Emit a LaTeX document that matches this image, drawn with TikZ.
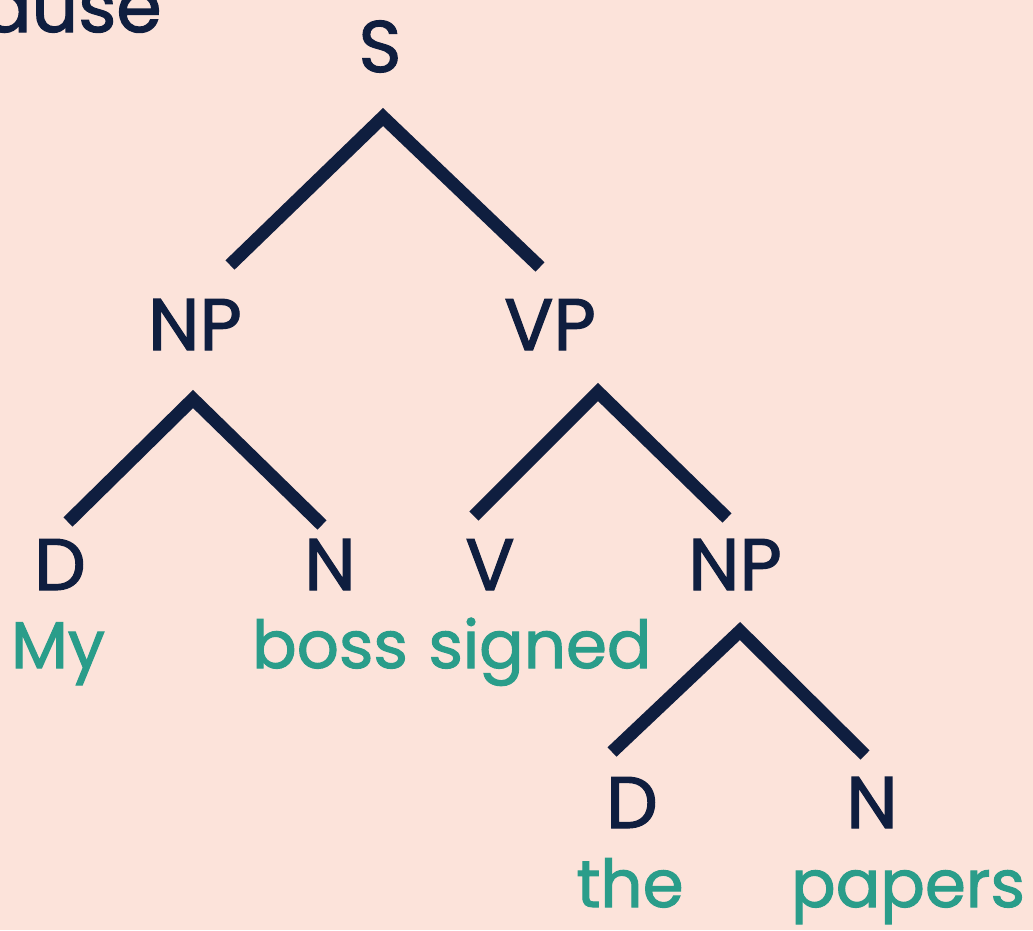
\documentclass[tikz,border=0pt]{standalone}
\usepackage{fontspec}
\setmainfont{Poppins}[FakeBold=1.6]
\definecolor{bg}{HTML}{FCE3DA}
\definecolor{navy}{HTML}{0F1E3F}
\definecolor{teal}{HTML}{2A9D8A}
\begin{document}
\begin{tikzpicture}[x=1pt,y=-1pt,
  cat/.style={text=navy,font=\fontsize{73}{78}\selectfont,inner sep=0pt,anchor=base},
  word/.style={text=teal,font=\fontsize{66}{70}\selectfont,inner sep=0pt,anchor=base},
  branch/.style={draw=navy,line width=13pt,line join=miter,line cap=butt}]
\fill[bg] (0,0) rectangle (1033,930);
\useasboundingbox (0,0) rectangle (1033,930);
\begin{scope}
\clip (0,0) rectangle (1033,930);
\node[cat,anchor=base west] (ause) at (-18,32) {ause};
\end{scope}
% categories
\node[cat] (S) at (380,72) {S};
\node[cat] (NP) at (195,350) {NP};
\node[cat] (VP) at (550,350) {VP};
\node[cat] (D) at (60,590) {D};
\node[cat] (N) at (330,590) {N};
\node[cat] (V) at (490,590) {V};
\node[cat] (NPb) at (735,590) {NP};
\node[cat] (Db) at (632,828) {D};
\node[cat] (Nb) at (872,828) {N};
% words
\node[word] (my) at (58,668) {My};
\node[word] (boss) at (330,668) {boss};
\node[word] (signed) at (540,668) {signed};
\node[word] (the) at (630,907) {the};
\node[word] (papers) at (908,907) {papers};
% branch points
\coordinate (Sa) at (383,117);
\coordinate (Sl) at (230,265);
\coordinate (Sr) at (540,267);
\coordinate (NPa) at (193,399);
\coordinate (NPl) at (68,522);
\coordinate (NPr) at (322,525);
\coordinate (VPa) at (598,392);
\coordinate (VPl) at (474,516);
\coordinate (VPr) at (727,518);
\coordinate (NPba) at (740,631);
\coordinate (NPbl) at (612,752);
\coordinate (NPbr) at (865,755);
\draw[branch] (Sl) -- (Sa) -- (Sr);
\draw[branch] (NPl) -- (NPa) -- (NPr);
\draw[branch] (VPl) -- (VPa) -- (VPr);
\draw[branch] (NPbl) -- (NPba) -- (NPbr);
\end{tikzpicture}
\end{document}
